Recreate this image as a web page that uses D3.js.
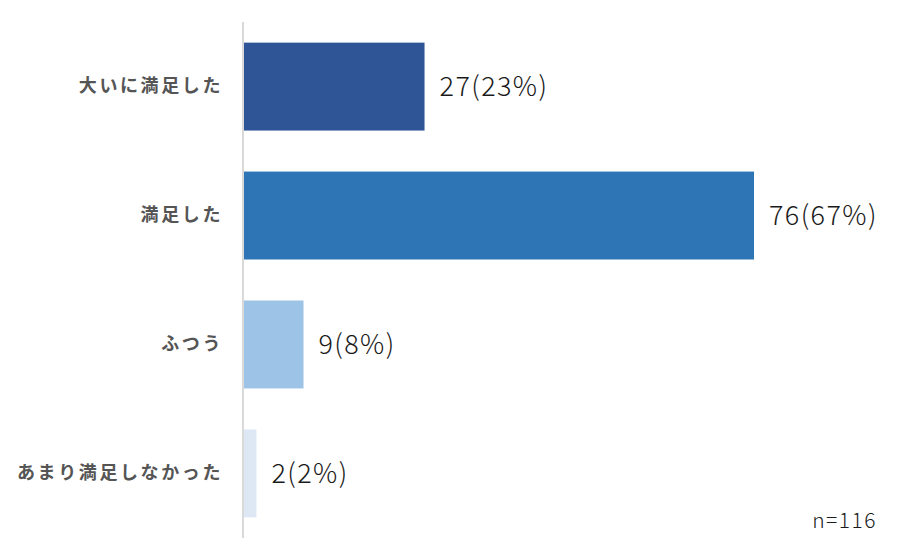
<!DOCTYPE html>
<html>
<head>
<meta charset="utf-8">
<script src="https://cdn.jsdelivr.net/npm/d3@7"></script>
<style>
  body { margin: 0; background: #fff; }
  text { font-family: "Noto Sans CJK JP", "Noto Sans", sans-serif; }
</style>
</head>
<body>
<div id="chart"></div>
<script>
// data
const categories = ["大いに満足した", "満足した", "ふつう", "あまり満足しなかった"];
const counts = [27, 76, 9, 2];
const percents = [23, 67, 8, 2];
const colors = ["#2f5597", "#2e75b6", "#9dc3e6", "#dee8f5"];
const total = 116;

let svg = d3
    .select("#chart")
    .append("svg")
    .attr("width", 898)
    .attr("height", 560),
  left = 243,
  right = 754;

// scales
let xScale = d3.scaleLinear().domain([0, 76]).range([left, right]),
  yScale = d3
    .scaleBand()
    .domain(categories)
    .range([22, 538])
    .paddingInner(0.318)
    .paddingOuter(0.16);

// bars
svg
  .append("g")
  .selectAll("rect")
  .data(categories)
  .enter()
  .append("rect")
  .attr("x", xScale(0))
  .attr("y", (d) => yScale(d))
  .attr("width", (d, i) => xScale(counts[i]) - xScale(0))
  .attr("height", yScale.bandwidth())
  .style("fill", (d, i) => colors[i]);

// category axis
let yAxis = svg
  .append("g")
  .attr("transform", "translate(" + left + ",0)")
  .call(d3.axisLeft(yScale).tickSize(0).tickPadding(20));

yAxis.select(".domain").attr("stroke", "#d9d9d9").attr("stroke-width", 2).attr("d", "M0,22V538");
yAxis
  .selectAll("text")
  .style("font-size", "18px")
  .style("letter-spacing", "2.6px")
  .style("font-weight", "bold")
  .style("fill", "#555")
  .style("font-family", '"Noto Sans CJK JP", sans-serif');

// value labels
svg
  .append("g")
  .selectAll("text")
  .data(categories)
  .enter()
  .append("text")
  .attr("x", (d, i) => xScale(counts[i]) + 15)
  .attr("y", (d) => yScale(d) + yScale.bandwidth() / 2)
  .attr("dy", "0.36em")
  .style("font-size", "27px")
  .style("letter-spacing", "1.4px")
  .style("font-weight", 300)
  .style("fill", "#1a1a1a")
  .text((d, i) => counts[i] + "(" + percents[i] + "%)");

// sample size
svg
  .append("text")
  .attr("x", 877)
  .attr("y", 528)
  .attr("text-anchor", "end")
  .style("font-size", "21px")
  .style("letter-spacing", "1.5px")
  .style("font-weight", 300)
  .style("fill", "#1a1a1a")
  .text("n=" + total);
</script>
</body>
</html>
